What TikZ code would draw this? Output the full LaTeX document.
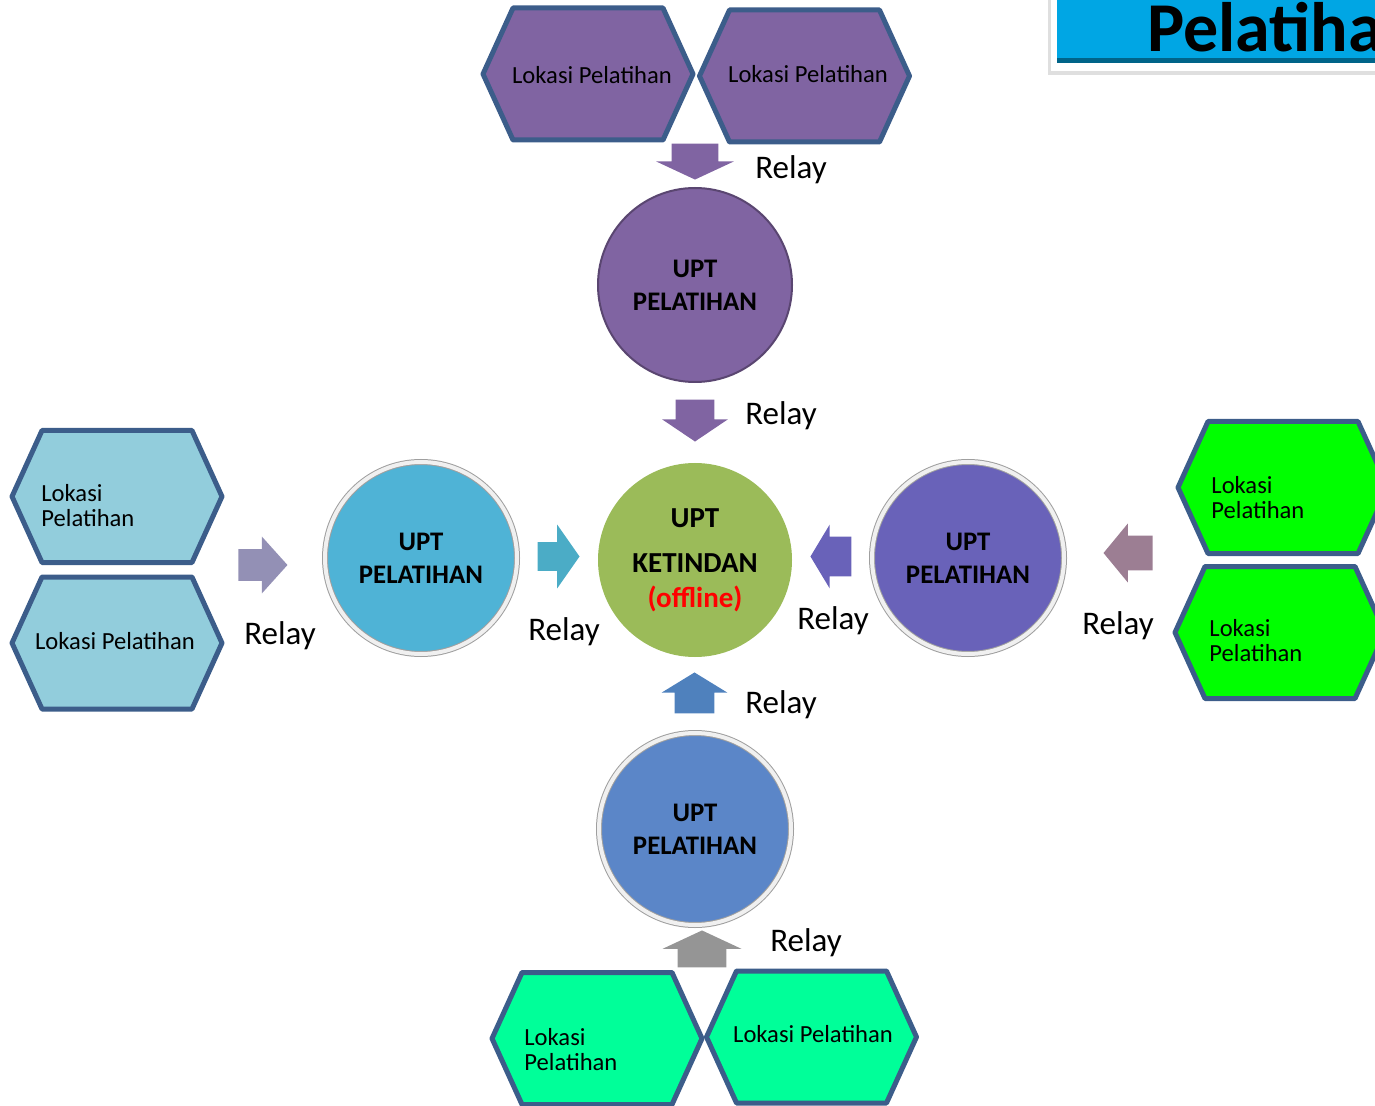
\documentclass[tikz,border=0pt]{standalone}
\usepackage{fontspec}
\setmainfont{Carlito}
\usetikzlibrary{shapes.arrows}
\definecolor{ungu}{HTML}{8064A2}
\definecolor{garis}{HTML}{3C5D8A}
\definecolor{biruMuda}{HTML}{92CDDC}
\definecolor{toska}{HTML}{4FB3D6}
\definecolor{zaitun}{HTML}{9BBB59}
\definecolor{nila}{HTML}{6962B9}
\definecolor{biru}{HTML}{5B86C8}
\definecolor{hijau}{HTML}{00FF00}
\definecolor{hijauLaut}{HTML}{00FF99}
\definecolor{abuUngu}{HTML}{9390B5}
\definecolor{mauve}{HTML}{9C7E93}
\definecolor{panahBiru}{HTML}{4F81BD}
\definecolor{panahToska}{HTML}{4BACC6}
\definecolor{abu}{HTML}{959595}
\definecolor{judulBiru}{HTML}{00A6E4}
\tikzstyle{upt}=[circle,minimum size=97pt,inner sep=0pt,align=center,font=\fontsize{13.4}{16.5}\selectfont\bfseries]
\tikzstyle{ring}=[draw=gray!75,double=gray!12,double distance=2pt,line width=0.5pt,minimum size=96pt]
\tikzstyle{lok}=[inner sep=0pt,font=\fontsize{12.3}{12.5}\selectfont]
\tikzstyle{relay}=[inner sep=0pt,font=\fontsize{16.5}{18}\selectfont]
\tikzstyle{panah}=[single arrow,draw=none,inner xsep=0pt,single arrow head indent=0pt,anchor=tip]
\tikzstyle{hex}=[draw=garis,line width=2.5pt,line join=round]
\newcommand{\lokasi}[3]{\draw[hex,fill=#3] (#2) +(-105,0) -- +(-75,-66) -- +(75,-66) -- +(105,0) -- +(75,66) -- +(-75,66) -- cycle;
\coordinate (#1) at (#2);}
\begin{document}
\begin{tikzpicture}[x=0.5pt,y=-0.5pt]
\useasboundingbox (0,0) rectangle (1375,1106);
% title box
\fill[gray!25] (1048,-10) rectangle (1400,75);
\fill[white] (1051,-10) rectangle (1400,71);
\fill[judulBiru] (1057,-10) rectangle (1400,63);
\fill[judulBiru!60!black] (1057,58) rectangle (1400,63);
\node[font=\fontsize{35}{35}\selectfont\bfseries,anchor=base west,inner sep=0pt] (judul) at (1147,52) {Pelatihan};
% lokasi pelatihan
\lokasi{H1}{588,74}{ungu}
\lokasi{H2}{804.5,76}{ungu}
\lokasi{H3}{117,496.5}{biruMuda}
\lokasi{H4}{117,643}{biruMuda}
\lokasi{H5}{1283,487.5}{hijau}
\lokasi{H6}{1280,632.5}{hijau}
\lokasi{H7}{597,1038.5}{hijauLaut}
\lokasi{H8}{811.5,1037}{hijauLaut}
\node[lok] (t1) at (592,75) {Lokasi Pelatihan};
\node[lok] (t2) at (808,74) {Lokasi Pelatihan};
\node[lok,align=left,anchor=west] (t3) at (41,506) {Lokasi\\Pelatihan};
\node[lok] (t4) at (115,641.5) {Lokasi Pelatihan};
\node[lok,align=left,anchor=west] (t5) at (1211,498) {Lokasi\\Pelatihan};
\node[lok,align=left,anchor=west] (t6) at (1209,641) {Lokasi\\Pelatihan};
\node[lok,align=left,anchor=west] (t7) at (524,1050) {Lokasi\\Pelatihan};
\node[lok] (t8) at (813,1034.5) {Lokasi Pelatihan};
% upt
\node[upt,fill=ungu,draw=ungu!70!black,line width=1pt] (U) at (695,285) {UPT\\PELATIHAN};
\node[upt,ring,fill=toska] (B) at (421,558) {UPT\\PELATIHAN};
\node[upt,ring,fill=nila] (T) at (968,558) {UPT\\PELATIHAN};
\node[upt,ring,fill=biru] (S) at (695,829) {UPT\\PELATIHAN};
\node[upt,fill=zaitun,font=\fontsize{14.5}{17.5}\selectfont\bfseries] (K) at (695,560) {UPT\\[5pt]KETINDAN\\\textcolor{red}{(offline)}};
% relay arrows
\node[panah,fill=ungu,rotate=-90,inner ysep=11.5pt,minimum height=18pt,single arrow head extend=7.75pt,single arrow tip angle=130] (a1) at (695,180) {};
\node[panah,fill=ungu,rotate=-90,inner ysep=9.5pt,minimum height=21pt,single arrow head extend=6.75pt,single arrow tip angle=112] (a2) at (695,442) {};
\node[panah,fill=abuUngu,inner ysep=7.75pt,minimum height=24.5pt,single arrow head extend=6.25pt,single arrow tip angle=96] (a3) at (288,565) {};
\node[panah,fill=panahToska,inner ysep=7pt,minimum height=21pt,single arrow head extend=8.75pt,single arrow tip angle=110] (a4) at (580,556.5) {};
\node[panah,fill=nila,rotate=180,inner ysep=9.75pt,minimum height=20.5pt,single arrow head extend=6pt,single arrow tip angle=118] (a5) at (810,556.5) {};
\node[panah,fill=mauve,rotate=180,inner ysep=8.5pt,minimum height=24.5pt,single arrow head extend=6pt,single arrow tip angle=101] (a6) at (1103,553) {};
\node[panah,fill=panahBiru,rotate=90,inner ysep=9.75pt,minimum height=20.5pt,single arrow head extend=6.5pt,single arrow tip angle=117] (a7) at (694.5,672) {};
\node[panah,fill=abu,rotate=90,inner ysep=12pt,minimum height=18.5pt,single arrow head extend=7.5pt,single arrow tip angle=130] (a8) at (702,930) {};
% relay labels
\node[relay] (r1) at (791,170) {Relay};
\node[relay] (r2) at (781,416) {Relay};
\node[relay] (r3) at (280,636) {Relay};
\node[relay] (r4) at (564,632) {Relay};
\node[relay] (r5) at (833,621) {Relay};
\node[relay] (r6) at (1118,626) {Relay};
\node[relay] (r7) at (781,705) {Relay};
\node[relay] (r8) at (806,943) {Relay};
\end{tikzpicture}
\end{document}
